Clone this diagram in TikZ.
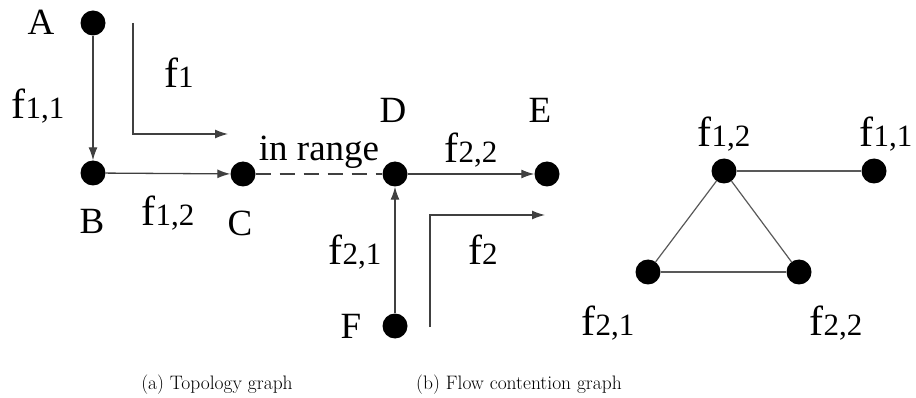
\documentclass[tikz,border=0pt]{standalone}
\usepackage{fontspec}
\newfontfamily\tnr{Liberation Serif}
\usetikzlibrary{arrows.meta}
\newcommand{\flab}[1]{{\fontsize{42}{42}\selectfont f}{\fontsize{31}{31}\selectfont #1}}
\tikzset{
  dot/.style={circle,fill=black,inner sep=0pt,minimum size=25pt},
  lab/.style={anchor=base,inner sep=0pt,font=\tnr\fontsize{37}{37}\selectfont},
  flabel/.style={anchor=base,inner sep=0pt,font=\tnr},
  captext/.style={anchor=base,inner sep=0pt,font=\fontsize{19.5}{22}\selectfont},
  link/.style={line width=1.3pt,draw=black!75,-{Latex[length=13pt,width=9pt]}},
  edge/.style={line width=1.2pt,draw=black!65},
}
\begin{document}
\begin{tikzpicture}[x=1pt,y=-1pt]
\useasboundingbox (0,0) rectangle (916,398);
% topology nodes
\node[dot] (A) at (93,23) {};
\node[dot] (B) at (93,173) {};
\node[dot] (C) at (243,174) {};
\node[dot] (D) at (395,174) {};
\node[dot] (E) at (547,174) {};
\node[dot] (F) at (395,326) {};
% node letters
\node[lab] (lA) at (41,35) {A};
\node[lab] (lB) at (92,234) {B};
\node[lab] (lC) at (240,236) {C};
\node[lab] (lD) at (393,123) {D};
\node[lab] (lE) at (540,123) {E};
\node[lab] (lF) at (351,338) {F};
% links
\draw[link] (A) -- (B);
\draw[link] (B) -- (C);
\draw[link] (D) -- (E);
\draw[link] (F) -- (D);
\draw[line width=1.2pt,draw=black!75,dash pattern=on 15pt off 9pt] (C) -- (D);
% flow arrows
\coordinate (f1s) at (133,23);
\coordinate (f1c) at (133,134);
\coordinate (f1e) at (228,134);
\draw[link] (f1s) -- (f1c) -- (f1e);
\coordinate (f2s) at (430,327);
\coordinate (f2c) at (430,215);
\coordinate (f2e) at (545,215);
\draw[link] (f2s) -- (f2c) -- (f2e);
% labels
\node[flabel] (lf1) at (179,88) {\flab{1}};
\node[flabel] (lf11) at (38,119) {\flab{1,1}};
\node[flabel] (lf12) at (168,226) {\flab{1,2}};
\node[lab] (lrange) at (319,161) {in range};
\node[flabel] (lf22) at (471,163) {\flab{2,2}};
\node[flabel] (lf21) at (355,265) {\flab{2,1}};
\node[flabel] (lf2) at (483,265) {\flab{2}};
% contention graph
\node[dot] (P12) at (724,171) {};
\node[dot] (P11) at (874,171) {};
\node[dot] (P21) at (648,272) {};
\node[dot] (P22) at (799,272) {};
\draw[edge] (P12) -- (P11);
\draw[edge] (P12) -- (P21);
\draw[edge] (P12) -- (P22);
\draw[edge] (P21) -- (P22);
\node[flabel] (q12) at (724,147) {\flab{1,2}};
\node[flabel] (q11) at (886,147) {\flab{1,1}};
\node[flabel] (q21) at (608,335) {\flab{2,1}};
\node[flabel] (q22) at (836,335) {\flab{2,2}};
% captions
\node[captext] (capa) at (217,389) {(a) Topology graph};
\node[captext] (capb) at (519,389) {(b) Flow contention graph};
\end{tikzpicture}
\end{document}
